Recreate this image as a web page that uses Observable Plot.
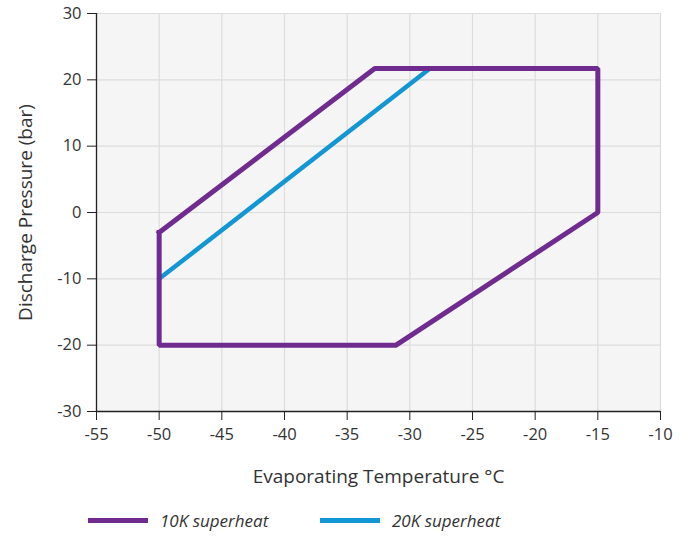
<!DOCTYPE html>
<html>
<head>
<meta charset="utf-8">
<script src="https://cdn.jsdelivr.net/npm/d3@7"></script>
<script src="https://cdn.jsdelivr.net/npm/@observablehq/plot@0.6"></script>
<style>
  body { margin: 0; background: #fff; font-family: "Open Sans", sans-serif; }
  #legend { position: relative; height: 40px; font-style: italic; font-size: 17px; color: #333; }
  .item { position: absolute; top: 13px; display: flex; align-items: center; }
  .sw { width: 60px; height: 5px; margin-right: 12px; }
</style>
</head>
<body>
<div id="chart"></div>
<div id="legend"></div>
<script>
const xTicks = [-55, -50, -45, -40, -35, -30, -25, -20, -15, -10];
const yTicks = [-30, -20, -10, 0, 10, 20, 30];
const series = ["10K superheat", "20K superheat"];
const colors = ["#702b8e", "#1296d4"];
const envelope10K_T = [-50, -32.8, -15, -15, -31.1, -50, -50];
const envelope10K_P = [-3, 21.7, 21.7, 0, -20, -20, -3];
const line20K_T = [-50, -28.4];
const line20K_P = [-10, 21.7];

const env = envelope10K_T.map((t, i) => ({t, p: envelope10K_P[i]}));
const l20 = line20K_T.map((t, i) => ({t, p: line20K_P[i]}));
const fmt = d => String(d);

const chart = Plot.plot({
  width: 689,
  height: 496,
  marginLeft: 96,
  marginRight: 29,
  marginTop: 13,
  marginBottom: 85,
  style: {fontFamily: "Open Sans, sans-serif", fontSize: "16px", color: "#333", background: "#fff"},
  x: {domain: [-55, -10], ticks: xTicks, label: "Evaporating Temperature °C", labelAnchor: "center"},
  y: {domain: [-30, 30], ticks: yTicks, label: "Discharge Pressure (bar)", labelAnchor: "center"},
  marks: [
    Plot.frame({fill: "#f5f5f5", stroke: null}),
    Plot.gridX(xTicks, {stroke: "#dcdcdc", strokeOpacity: 1, strokeWidth: 1.2}),
    Plot.gridY(yTicks, {stroke: "#dcdcdc", strokeOpacity: 1, strokeWidth: 1.2}),
    Plot.ruleX([-55], {stroke: "#222", strokeWidth: 1.3}),
    Plot.ruleY([-30], {stroke: "#222", strokeWidth: 1.3}),
    Plot.axisX(xTicks, {tickSize: 9, tickPadding: 8, fontSize: 16.5, tickFormat: fmt, label: "Evaporating Temperature °C", labelAnchor: "center", labelOffset: 71, labelArrow: "none", stroke: "#222"}),
    Plot.axisY(yTicks, {tickSize: 9, tickPadding: 6, fontSize: 16.5, tickFormat: fmt, label: "Discharge Pressure (bar)", labelAnchor: "center", labelOffset: 78, labelArrow: "none", stroke: "#222"}),
    Plot.line(l20, {x: "t", y: "p", stroke: colors[1], strokeWidth: 4.5}),
    Plot.line(env, {x: "t", y: "p", stroke: colors[0], strokeWidth: 5, strokeLinejoin: "miter", strokeLinecap: "square"})
  ]
});
document.getElementById("chart").appendChild(chart);
d3.select(chart).selectAll("g[aria-label='x-axis label'] text, g[aria-label='y-axis label'] text").style("font-size", "19px");

const lg = document.getElementById("legend");
const xs = [88, 320];
series.forEach((s, i) => {
  const d = document.createElement("div");
  d.className = "item";
  d.style.left = xs[i] + "px";
  d.innerHTML = `<span class="sw" style="background:${colors[i]}"></span><span>${s}</span>`;
  lg.appendChild(d);
});
</script>
</body>
</html>
